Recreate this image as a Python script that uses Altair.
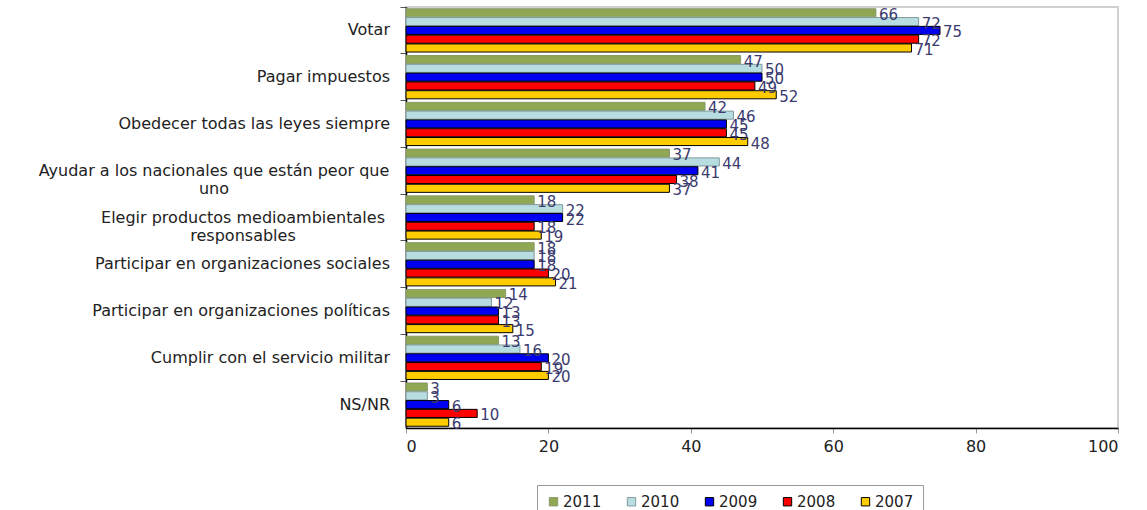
import altair as alt
import pandas as pd

categories = [
    "Votar",
    "Pagar impuestos",
    "Obedecer todas las leyes siempre",
    "Ayudar a los nacionales que están peor que uno",
    "Elegir productos medioambientales responsables",
    "Participar en organizaciones sociales",
    "Participar en organizaciones políticas",
    "Cumplir con el servicio militar",
    "NS/NR",
]
years = ["2011", "2010", "2009", "2008", "2007"]
v2011 = [66, 47, 42, 37, 18, 18, 14, 13, 3]
v2010 = [72, 50, 46, 44, 22, 18, 12, 16, 3]
v2009 = [75, 50, 45, 41, 22, 18, 13, 20, 6]
v2008 = [72, 49, 45, 38, 18, 20, 13, 19, 10]
v2007 = [71, 52, 48, 37, 19, 21, 15, 20, 6]
colors = ["#8fa753", "#b8dde0", "#0000f0", "#ff0000", "#ffcc00"]
strokes = ["#8a9a6a", "#7f9a9c", "#000000", "#000000", "#000000"]

series = {"2011": v2011, "2010": v2010, "2009": v2009, "2008": v2008, "2007": v2007}
rows = []
for yr in years:
    for c, v in zip(categories, series[yr]):
        rows.append({"cat": c, "year": yr, "value": v})
df = pd.DataFrame(rows)

single = [c for c in categories if c not in (categories[3], categories[4])]
lab_single = pd.DataFrame({"cat": single, "label": single})
lab_ayudar = pd.DataFrame({"cat": [categories[3]],
                           "label": [["Ayudar a los nacionales que están peor que", "uno"]]})
lab_elegir = pd.DataFrame({"cat": [categories[4]],
                           "label": [["Elegir productos medioambientales", "responsables"]]})

FONT = "DejaVu Sans"

yscale = alt.Scale(domain=categories, paddingInner=0, paddingOuter=0)
yaxis = alt.Axis(labels=False, ticks=True, tickSize=6, tickColor="#555",
                 bandPosition=0, domainColor="#000", domainWidth=1.5)
y = alt.Y("cat:N", scale=yscale, title=None, axis=yaxis)
yoff = alt.YOffset("year:N", sort=years,
                   scale=alt.Scale(domain=years, paddingInner=0.08, paddingOuter=0.2))

base = alt.Chart(df)

bars = base.mark_bar(strokeWidth=1).encode(
    x=alt.X("value:Q", scale=alt.Scale(domain=[0, 100]), title=None,
            axis=alt.Axis(values=[0, 20, 40, 60, 80, 100], grid=False,
                          labelFontSize=16, labelFont=FONT, labelColor="#222",
                          tickColor="#999", tickSize=5, labelPadding=5,
                          domainColor="#000", domainWidth=1.5)),
    y=y,
    yOffset=yoff,
    fill=alt.Fill("year:N", sort=years,
                  scale=alt.Scale(domain=years, range=colors),
                  legend=alt.Legend(title=None, orient="none", legendX=131, legendY=478,
                                    direction="horizontal", symbolType="square",
                                    symbolSize=70, symbolStrokeColor="#333",
                                    symbolStrokeWidth=1, labelFont=FONT,
                                    labelFontSize=15, labelColor="#222",
                                    columnPadding=22, labelOffset=2,
                                    padding=9, strokeColor="#999",
                                    fillColor="#ffffff")),
    stroke=alt.Stroke("year:N", sort=years,
                      scale=alt.Scale(domain=years, range=strokes), legend=None),
)

texts = base.mark_text(align="left", baseline="middle", dx=3, dy=2,
                       font=FONT, fontSize=15, color="#3a3a6e").encode(
    x="value:Q",
    y=y,
    yOffset=yoff,
    text="value:Q",
)

def ylab(data, align, xpos):
    return alt.Chart(data).mark_text(align=align, baseline="middle", font=FONT,
                                     fontSize=16, color="#222", lineHeight=18).encode(
        y=alt.Y("cat:N", scale=yscale, title=None, axis=yaxis),
        x=alt.value(xpos),
        text="label",
    )

l1 = ylab(lab_single, "right", -16)
l2 = ylab(lab_ayudar, "center", -192)
l3 = ylab(lab_elegir, "center", -163)

chart = alt.layer(bars, texts, l1, l2, l3).properties(
    width=712, height=421,
    autosize="none",
    padding={"left": 406, "top": 7, "right": 29, "bottom": 82},
).configure_view(stroke="#cfcfcf", strokeWidth=2)

chart.save("out.html", embed_options={"renderer": "svg", "actions": False})
